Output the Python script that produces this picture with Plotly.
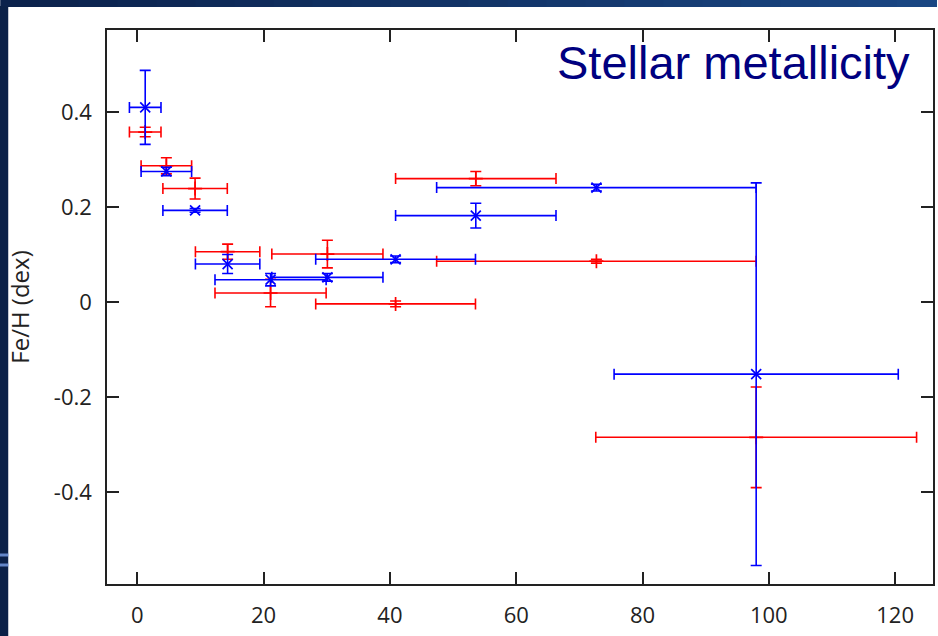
import plotly.graph_objects as go

# Bin centres along x and their half-widths
bin_x = [1.25, 4.6, 9.15, 14.3, 21.1, 30.1, 40.9, 53.6, 72.7, 98.0]
red_xerr = [2.5, 4.0, 5.1, 5.1, 8.8, 8.8, 12.65, 12.7, 25.3, 25.4]
blue_xerr = [2.5, 4.0, 5.1, 5.1, 8.8, 8.8, 12.65, 12.7, 25.3, 22.5]

# [Fe/H] per bin for the two samples
red_feh = [0.358, 0.287, 0.239, 0.106, 0.019, 0.101, -0.004, 0.260, 0.086, -0.285]
red_feh_err = [0.010, 0.017, 0.022, 0.016, 0.029, 0.029, 0.006, 0.015, 0.004, 0.106]
blue_feh = [0.410, 0.275, 0.193, 0.080, 0.047, 0.052, 0.090, 0.182, 0.241, -0.152]
blue_feh_err = [0.078, 0.009, 0.004, 0.020, 0.013, 0.008, 0.007, 0.026, 0.007, 0.403]

x_ticks = [0, 20, 40, 60, 80, 100, 120]
y_ticks = [-0.4, -0.2, 0, 0.2, 0.4]
y_tick_text = ["-0.4", "-0.2", "0", "0.2", "0.4"]

W, H = 938, 636
L, R, T, B = 107, 3, 30, 52
PW, PH = W - L - R, H - T - B


def px(xp):
    return (xp - L) / PW


def py(yp):
    return (H - B - yp) / PH


fig = go.Figure()


def add_series(y, yerr, xerr, color, symbol):
    fig.add_trace(go.Scatter(
        x=bin_x, y=y, mode="markers",
        marker=dict(symbol=symbol, size=10, color=color,
                    line=dict(color=color, width=1.7)),
        error_x=dict(type="data", array=xerr, visible=True,
                     color=color, thickness=1.6, width=5.5),
        error_y=dict(type="data", array=yerr, visible=True,
                     color=color, thickness=1.6, width=5.5),
        showlegend=False, cliponaxis=False,
    ))


add_series(red_feh, red_feh_err, red_xerr, "#ff0000", "cross-thin")
add_series(blue_feh, blue_feh_err, blue_xerr, "#0000ff", "x-thin")

axis_common = dict(
    showline=True, linecolor="#222222", linewidth=1.5, mirror="ticks",
    ticks="inside", ticklen=12, tickwidth=1.5, tickcolor="#222222",
    showgrid=False, zeroline=False,
    tickfont=dict(family="Open Sans", size=22, color="#222222"),
)

fig.update_xaxes(range=[-4.8, 126.0], tickvals=x_ticks, ticklabelstandoff=11,
                 **axis_common)
fig.update_yaxes(range=[-0.594, 0.573], tickvals=y_ticks, ticktext=y_tick_text,
                 ticklabelstandoff=9,
                 title=dict(text="Fe/H (dex)", standoff=17,
                            font=dict(family="Open Sans", size=24, color="#222222")),
                 **axis_common)

# Slide frame: dark strips along top and left edges
shapes = []
n = 24
c0 = (11, 34, 76)
c1 = (26, 70, 130)
for i in range(n):
    t = i / (n - 1)
    col = tuple(int(round(c0[k] + (c1[k] - c0[k]) * t)) for k in range(3))
    shapes.append(dict(type="rect", xref="paper", yref="paper",
                       x0=px(W * i / n), x1=px(W * (i + 1) / n + 1),
                       y0=py(7), y1=py(-2),
                       fillcolor="rgb(%d,%d,%d)" % col, line=dict(width=0),
                       layer="above"))
shapes.append(dict(type="rect", xref="paper", yref="paper",
                   x0=px(-2), x1=px(8), y0=py(H + 2), y1=py(6),
                   fillcolor="rgb(11,33,72)", line=dict(width=0), layer="above"))
for yy in (555, 565):
    shapes.append(dict(type="rect", xref="paper", yref="paper",
                       x0=px(-2), x1=px(8), y0=py(yy + 1.5), y1=py(yy - 1.5),
                       fillcolor="rgb(100,135,200)", line=dict(width=0),
                       layer="above"))

fig.update_layout(
    width=W, height=H,
    margin=dict(l=L, r=R, t=T, b=B),
    paper_bgcolor="white", plot_bgcolor="white",
    shapes=shapes,
    annotations=[dict(
        text="Stellar metallicity", xref="paper", yref="paper",
        x=px(914), y=py(63), xanchor="right", yanchor="middle",
        showarrow=False,
        font=dict(family="Liberation Sans", size=47, color="#000080"),
    )],
)

fig.write_html("out.html")
